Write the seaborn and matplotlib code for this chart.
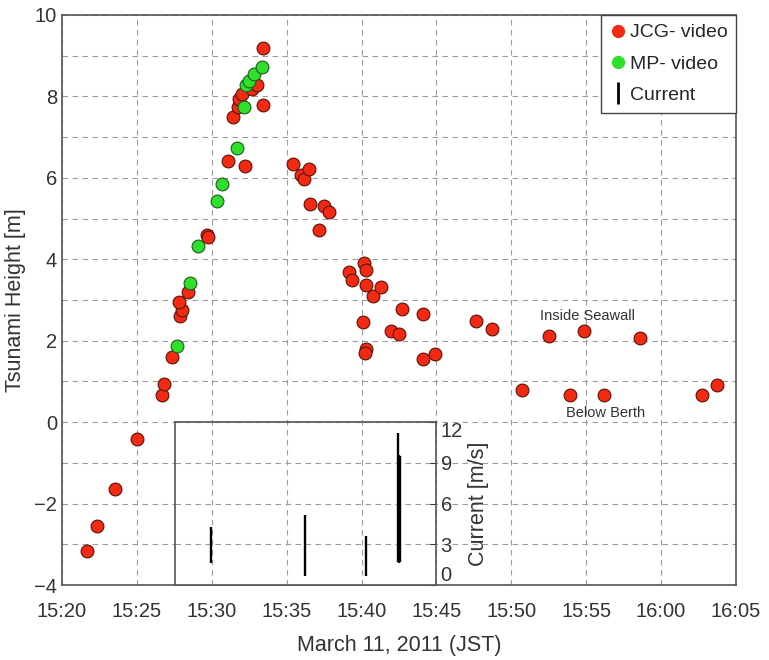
import matplotlib
matplotlib.use("Agg")
import matplotlib.pyplot as plt
import seaborn as sns
from matplotlib.lines import Line2D

# time is minutes after 15:20 (JST, March 11, 2011)
jcg_min = [1.70, 2.36, 3.52, 5.00, 6.65, 6.83, 7.33, 7.91, 7.98, 7.80, 8.39,
           9.67, 9.78, 11.11, 12.22, 11.40, 11.73, 11.84, 12.00, 12.67, 13.00,
           13.40, 13.44, 15.40, 15.96, 16.18, 16.49, 16.56, 17.49, 17.82, 17.13,
           19.18, 19.33, 20.18, 20.33, 20.27, 20.78, 21.33, 22.67, 24.11, 20.11,
           21.96, 22.49, 20.33, 20.22, 24.11, 24.91, 27.65, 28.70, 32.49, 34.87,
           38.60, 30.73, 33.93, 36.18, 42.71, 43.71]
jcg_height = [-3.17, -2.56, -1.64, -0.41, 0.67, 0.94, 1.61, 2.61, 2.76, 2.94, 3.20,
              4.60, 4.55, 6.42, 6.30, 7.50, 7.74, 7.93, 8.05, 8.18, 8.28,
              7.78, 9.20, 6.33, 6.08, 5.96, 6.22, 5.35, 5.32, 5.17, 4.72,
              3.70, 3.49, 3.92, 3.74, 3.37, 3.10, 3.31, 2.78, 2.65, 2.47,
              2.24, 2.16, 1.80, 1.70, 1.55, 1.68, 2.48, 2.28, 2.12, 2.24,
              2.07, 0.79, 0.67, 0.67, 0.67, 0.91]

mp_min = [7.71, 8.54, 9.10, 10.38, 10.67, 11.67, 12.16, 12.27, 12.51, 12.84, 13.38]
mp_height = [1.88, 3.41, 4.33, 5.42, 5.85, 6.73, 7.75, 8.27, 8.39, 8.54, 8.72]

# current records: time, lower and upper speed
current_min = [9.93, 16.22, 20.27, 22.42, 22.52, 22.58]
current_lo = [1.6, 0.7, 0.7, 1.7, 1.6, 1.7]
current_hi = [4.3, 5.15, 3.63, 11.2, 9.6, 9.5]

time_ticks = [0, 5, 10, 15, 20, 25, 30, 35, 40, 45]
time_labels = ["15:20", "15:25", "15:30", "15:35", "15:40",
               "15:45", "15:50", "15:55", "16:00", "16:05"]

RED = "#f22a12"
GREEN = "#2ee02a"
GRID = dict(ls=(0, (5, 4)), color="#9c9c9c", lw=0.8)

sns.set_style("white")
plt.rcParams["font.family"] = ["Liberation Sans", "DejaVu Sans"]
plt.rcParams["axes.edgecolor"] = "#555555"
plt.rcParams["axes.linewidth"] = 1.2

fig = plt.figure(figsize=(7.69, 6.60), dpi=100)
ax = fig.add_axes([0.0806, 0.1136, 0.8765, 0.8637])

sns.scatterplot(x=jcg_min, y=jcg_height, ax=ax, color=RED, edgecolor="#5a1208",
                s=85, linewidth=0.8, zorder=3, legend=False)
sns.scatterplot(x=mp_min, y=mp_height, ax=ax, color=GREEN, edgecolor="#1f5a1f",
                s=85, linewidth=0.8, zorder=3, legend=False)

ax.set_xlim(0, 45)
ax.set_ylim(-4, 10)
ax.set_xticks(time_ticks)
ax.set_xticklabels(time_labels)
ax.set_yticks(range(-4, 11, 2))
ax.set_yticks(range(-3, 10, 2), minor=True)
ax.tick_params(which="both", direction="in", length=4, labelsize=14.5, colors="#333333")
ax.tick_params(axis="x", pad=12)
ax.tick_params(which="minor", length=0)
ax.set_axisbelow(True)
ax.grid(True, which="both", **GRID)
ax.set_xlabel("March 11, 2011 (JST)", fontsize=15.5, color="#333333", labelpad=10)
ax.set_ylabel("Tsunami Height [m]", fontsize=15.5, color="#333333", labelpad=6)

ax.text(35.1, 2.61, "Inside Seawall", ha="center", va="center", fontsize=10.5, color="#333333")
ax.text(36.3, 0.22, "Below Berth", ha="center", va="center", fontsize=10.5, color="#333333")

handles = [
    Line2D([], [], marker="o", ls="none", color=RED, markersize=8.5),
    Line2D([], [], marker="o", ls="none", color=GREEN, markersize=8.5),
    Line2D([], [], marker="|", ls="none", color="black", markersize=16, mew=2),
]
leg = ax.legend(handles, ["JCG- video", "MP- video", "Current"], loc="upper right",
                bbox_to_anchor=(1, 1), borderaxespad=0, fancybox=False, framealpha=1,
                edgecolor="#444444", fontsize=14, handlelength=0.8, handletextpad=0.2,
                labelspacing=0.7, borderpad=0.45)
leg.get_frame().set_linewidth(1.0)

# inset with the current records, sharing the time scale of the main axes
in_start, in_end = 7.53, 25.0
ax_in = ax.inset_axes([in_start, -4, in_end - in_start, 4], transform=ax.transData)
ax_in.set_facecolor("white")
ax_in.vlines(current_min, current_lo, current_hi, colors="black", lw=1.7)
ax_in.set_xlim(in_start, in_end)
ax_in.set_ylim(0, 12)
ax_in.set_xticks([10, 15, 20])
ax_in.set_xticklabels([])
ax_in.set_yticks([0, 3, 6, 9, 12])
ax_in.yaxis.tick_right()
ax_in.yaxis.set_label_position("right")
ax_in.tick_params(axis="x", length=0)
ax_in.tick_params(axis="y", direction="in", length=4, labelsize=14.5, colors="#333333", pad=3)
ax_in.grid(True, **GRID)
ax_in.set_ylabel("Current [m/s]", fontsize=15.5, color="#333333", labelpad=4)
in_labels = ax_in.get_yticklabels()
in_labels[0].set_va("bottom")
in_labels[-1].set_va("top")
for sp in ax_in.spines.values():
    sp.set_color("#555555")
    sp.set_linewidth(1.2)

fig.savefig("out.png", dpi=100)
